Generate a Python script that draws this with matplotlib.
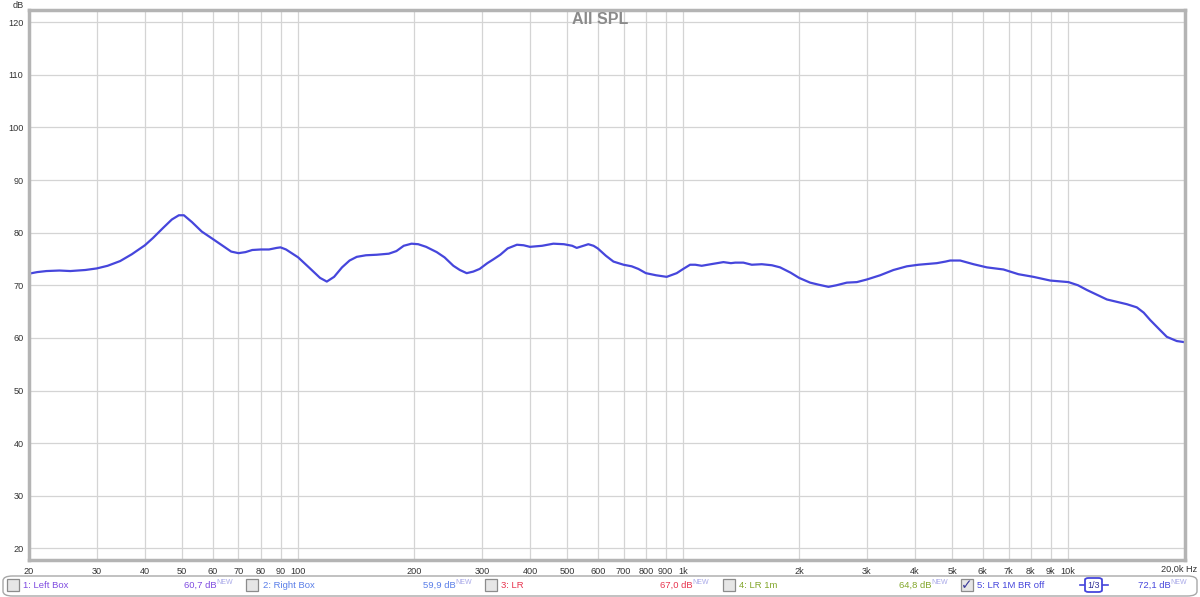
import matplotlib
matplotlib.use("Agg")
import matplotlib.pyplot as plt
from matplotlib.patches import FancyBboxPatch, Rectangle

plt.rcParams['font.family'] = ['Liberation Sans', 'DejaVu Sans']

# traced response of "5: LR 1M BR off" (Hz, dB)
freq = [20, 21, 22.2, 24, 25.6, 28, 30, 32, 34.5, 37, 40, 42, 44.6, 47, 49, 50.5, 53,
        56.2, 60, 64, 67, 70, 73, 76, 80, 84, 88, 90, 93, 100, 107, 114, 118.7, 124,
        130, 136, 142, 150, 160, 172, 180, 188, 197, 205, 215, 229, 240, 253, 263, 274,
        285, 296, 310, 321, 335, 350, 370, 385, 400, 430, 460, 490, 515, 529, 545, 567,
        585, 600, 630, 659, 700, 735, 765, 800, 850, 906, 962, 1000, 1042, 1075, 1117,
        1180, 1272, 1330, 1365, 1433, 1507, 1600, 1700, 1785, 1900, 2000, 2136, 2250,
        2384, 2500, 2660, 2825, 3000, 3247, 3516, 3809, 4084, 4557, 4800, 4935, 5240,
        5674, 6145, 6788, 7424, 8120, 8975, 10013, 10600, 11180, 12600, 14200, 15070,
        15700, 16320, 17200, 18030, 19140, 20000]
spl = [72.2, 72.5, 72.7, 72.8, 72.7, 72.9, 73.2, 73.7, 74.6, 75.9, 77.6, 79.0, 80.9,
       82.5, 83.3, 83.3, 82.0, 80.2, 78.8, 77.4, 76.4, 76.1, 76.3, 76.7, 76.8, 76.8,
       77.1, 77.2, 76.8, 75.3, 73.3, 71.4, 70.7, 71.6, 73.4, 74.7, 75.4, 75.7, 75.8,
       76.0, 76.5, 77.5, 77.9, 77.8, 77.3, 76.3, 75.3, 73.7, 72.9, 72.3, 72.6, 73.1,
       74.2, 74.9, 75.8, 77.0, 77.7, 77.6, 77.3, 77.5, 77.9, 77.8, 77.5, 77.1, 77.4,
       77.8, 77.5, 77.0, 75.6, 74.5, 73.9, 73.6, 73.1, 72.3, 71.9, 71.6, 72.3, 73.1,
       73.9, 73.9, 73.7, 74.0, 74.4, 74.2, 74.3, 74.3, 73.9, 74.0, 73.8, 73.4, 72.4,
       71.4, 70.5, 70.1, 69.7, 70.0, 70.5, 70.6, 71.1, 71.9, 72.9, 73.6, 73.9, 74.2,
       74.5, 74.7, 74.7, 74.0, 73.4, 73.0, 72.1, 71.6, 70.9, 70.6, 70.0, 69.1, 67.3,
       66.4, 65.8, 64.8, 63.4, 61.7, 60.2, 59.4, 59.2]

xticks = [20, 30, 40, 50, 60, 70, 80, 90, 100, 200, 300, 400, 500, 600, 700, 800, 900,
          1000, 2000, 3000, 4000, 5000, 6000, 7000, 8000, 9000, 10000]
xlabels = ['20', '30', '40', '50', '60', '70', '80', '90', '100', '200', '300', '400',
           '500', '600', '700', '800', '900', '1k', '2k', '3k', '4k', '5k', '6k', '7k',
           '8k', '9k', '10k']
yticks = [20, 30, 40, 50, 60, 70, 80, 90, 100, 110, 120]

# legend bar entries
names = ['1: Left Box', '2: Right Box', '3: LR', '4: LR 1m', '5: LR 1M BR off']
levels = ['60,7 dB', '59,9 dB', '67,0 dB', '64,8 dB', '72,1 dB']
colors = ['#7f4be0', '#5a7ee8', '#e8344f', '#82a62a', '#4646dc']
checked = [False, False, False, False, True]

W, H = 1200, 597
fig = plt.figure(figsize=(W / 100, H / 100), dpi=100)
fig.patch.set_facecolor('white')

def fx(px):
    return px / W

def fy(py):
    return 1 - py / H

ax = fig.add_axes([fx(29), fy(560), fx(1185 - 29), (560 - 10) / H])
ax.set_xscale('log')
ax.set_xlim(20, 20100)
ax.set_ylim(17.8, 122.3)
ax.plot(freq, spl, color='#4646dc', lw=1.6, solid_joinstyle='round')

ax.set_xticks(xticks)
ax.set_xticklabels(xlabels)
ax.xaxis.set_minor_locator(matplotlib.ticker.NullLocator())
ax.set_yticks(yticks)
ax.tick_params(length=0, labelsize=6.6, colors='#333333', pad=4)
ax.tick_params(axis='x', pad=5)
ax.grid(True, color='#d4d4d4', lw=0.9)
for s in ax.spines.values():
    s.set_color('#b4b4b4')
    s.set_linewidth(2.5)

fig.text(fx(18), fy(5), 'dB', fontsize=6.6, color='#333333', ha='center', va='center')
fig.text(fx(1197), fy(569), '20,0k Hz', fontsize=6.6, color='#333333', ha='right', va='center')
fig.text(fx(600), fy(19), 'All SPL', fontsize=11.5, fontweight='bold', color='#8a8a8a',
         ha='center', va='center')

# legend bar at the bottom
bar = FancyBboxPatch((fx(3), fy(596)), fx(1194), (596 - 576) / H,
                     boxstyle='round,pad=0,rounding_size=0.008', transform=fig.transFigure,
                     facecolor='white', edgecolor='#a8a8a8', lw=1, zorder=1)
fig.patches.append(bar)

box_x = [7, 246, 485, 723, 961]
name_x = [23, 263, 501, 739, 977]
level_x = [184, 423, 660, 899, 1138]
yc = fy(585.5)
renderer = fig.canvas.get_renderer()
for i in range(5):
    cb = Rectangle((fx(box_x[i]), fy(591)), fx(12), 12 / H, transform=fig.transFigure,
                   facecolor='#e6e6e6', edgecolor='#8c8c8c', lw=0.9, zorder=2)
    fig.patches.append(cb)
    if checked[i]:
        fig.text(fx(box_x[i] + 6), fy(585), '✓', fontsize=10, color='#3a3a9a',
                 ha='center', va='center', family=['DejaVu Sans'])
    fig.text(fx(name_x[i]), yc, names[i], fontsize=6.8, color=colors[i], va='center')
    t = fig.text(fx(level_x[i]), yc, levels[i], fontsize=6.8, color=colors[i], va='center')
    bb = t.get_window_extent(renderer)
    fig.text(bb.x1 / W, fy(582), 'NEW', fontsize=5, color='#a8a8e8', va='center')

# 1/3 octave smoothing badge
fig.lines.append(plt.Line2D([fx(1080), fx(1108)], [fy(585), fy(585)], color='#4646dc',
                            lw=1.2, transform=fig.transFigure, zorder=3))
badge = FancyBboxPatch((fx(1085), fy(592)), fx(17), 14 / H,
                       boxstyle='round,pad=0,rounding_size=0.003', transform=fig.transFigure,
                       facecolor='white', edgecolor='#4646dc', lw=1.3, zorder=5)
fig.patches.append(badge)
fig.text(fx(1093.5), fy(585), '1/3', fontsize=6.5, color='#333399', ha='center',
         va='center', zorder=6)

fig.savefig('out.png', dpi=100)
